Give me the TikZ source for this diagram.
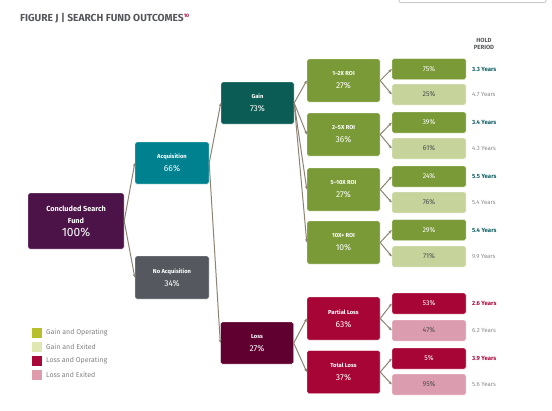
\documentclass[tikz,border=0pt]{standalone}
\usepackage{fontspec}
\setmainfont{Fira Sans}
\usepackage{tikz}
\usepackage{xcolor}
\usetikzlibrary{arrows.meta}
\definecolor{rootpurple}{RGB}{75,19,71}
\definecolor{acqteal}{RGB}{0,129,143}
\definecolor{noacqgray}{RGB}{85,88,95}
\definecolor{gainteal}{RGB}{11,92,84}
\definecolor{lossmaroon}{RGB}{95,0,48}
\definecolor{gaingreen}{RGB}{121,154,54}
\definecolor{gainlight}{RGB}{198,212,156}
\definecolor{lossred}{RGB}{166,5,53}
\definecolor{losspink}{RGB}{220,156,175}
\definecolor{leggreen}{RGB}{184,191,44}
\definecolor{leglight}{RGB}{225,231,178}
\definecolor{legred}{RGB}{168,7,58}
\definecolor{legpink}{RGB}{222,155,174}
\definecolor{linkgray}{RGB}{140,131,116}
\definecolor{titlegray}{RGB}{85,87,92}
\definecolor{yearteal}{RGB}{14,95,99}
\definecolor{yeargray}{RGB}{138,138,138}

\newcommand{\boxlabel}[2]{\bfseries\fontsize{5.8}{7}\selectfont #1\\[1pt]\mdseries\fontsize{8.5}{9}\selectfont #2}

\tikzset{
  outcome/.style={rectangle, rounded corners=1.5pt, draw=white, line width=0.4pt, align=center, text=white, inner sep=1pt, minimum width=73pt, minimum height=43pt},
  share/.style={rectangle, rounded corners=1.5pt, draw=white, line width=0.4pt, inner sep=1pt, minimum width=74pt, minimum height=21pt, font=\fontsize{7}{8}\selectfont},
  operating/.style={share, text=white},
  exited/.style={share, text=black!70},
  years/.style={anchor=west, inner sep=0pt, font=\fontsize{6}{7}\selectfont, text=yeargray},
  fastyears/.style={years, font=\bfseries\fontsize{6}{7}\selectfont},
  legsq/.style={rectangle, minimum size=10pt, inner sep=0pt},
  legtext/.style={anchor=west, inner sep=0pt, font=\fontsize{7}{8}\selectfont, text=black!50},
  link/.style={->, linkgray, line width=1pt}
}

\begin{document}
\begin{tikzpicture}[x=1pt, y=-1pt, >={Stealth[length=3.5pt,width=3pt]}]
    \useasboundingbox (0,0) rectangle (552,410);
    \clip (0,0) rectangle (552,410);

    % Title and the box cut off at the top
    \node[anchor=west, inner sep=0pt, text=titlegray, font=\bfseries\fontsize{10.2}{11}\selectfont] (title) at (20,18)
        {FIGURE J | SEARCH FUND OUTCOMES\raisebox{3.5pt}{\textcolor{legred}{\fontsize{5}{5}\selectfont 10}}};
    \draw[black!20, line width=1pt, rounded corners=2pt] (399,-10) -- (399,2.5) -- (546,2.5) -- (546,-10);

    % Tree
    \node[outcome, fill=rootpurple, minimum width=96pt, minimum height=56pt] (root) at (76,221)
        {\bfseries\fontsize{7.3}{8.5}\selectfont Concluded Search\\\bfseries\fontsize{7.3}{8.5}\selectfont Fund\\[1pt]\mdseries\fontsize{12}{13}\selectfont 100\%};
    \node[outcome, fill=acqteal, minimum width=74pt, minimum height=42pt] (acq) at (172,163) {\boxlabel{Acquisition}{66\%}};
    \node[outcome, fill=noacqgray, minimum width=74pt] (noacq) at (172,277.5) {\boxlabel{No Acquisition}{34\%}};
    \node[outcome, fill=gainteal, minimum height=42pt] (gain) at (257.5,103) {\boxlabel{Gain}{73\%}};
    \node[outcome, fill=lossmaroon, minimum height=42pt] (loss) at (257,343) {\boxlabel{Loss}{27\%}};

    \node[outcome, fill=gaingreen] (roi1) at (343.5,80.5) {\boxlabel{1--2X ROI}{27\%}};
    \node[outcome, fill=gaingreen] (roi2) at (343.5,134.5) {\boxlabel{2--5X ROI}{36\%}};
    \node[outcome, fill=gaingreen] (roi3) at (343.5,189.5) {\boxlabel{5--10X ROI}{27\%}};
    \node[outcome, fill=gaingreen] (roi4) at (343.5,242.5) {\boxlabel{10X+ ROI}{10\%}};
    \node[outcome, fill=lossred] (ploss) at (343.5,318.5) {\boxlabel{Partial Loss}{63\%}};
    \node[outcome, fill=lossred] (tloss) at (343.5,372) {\boxlabel{Total Loss}{37\%}};

    % Operating / exited shares
    \node[operating, fill=gaingreen] (op1) at (429,69) {75\%};
    \node[exited, fill=gainlight] (ex1) at (429,94.5) {25\%};
    \node[operating, fill=gaingreen] (op2) at (429,122.5) {39\%};
    \node[exited, fill=gainlight] (ex2) at (429,148.5) {61\%};
    \node[operating, fill=gaingreen] (op3) at (429,176.5) {24\%};
    \node[exited, fill=gainlight] (ex3) at (429,202.5) {76\%};
    \node[operating, fill=gaingreen] (op4) at (429,230) {29\%};
    \node[exited, fill=gainlight] (ex4) at (429,256.5) {71\%};
    \node[operating, fill=lossred] (op5) at (429,303.5) {53\%};
    \node[exited, fill=losspink] (ex5) at (429,330.5) {47\%};
    \node[operating, fill=lossred] (op6) at (429,358.5) {5\%};
    \node[exited, fill=losspink] (ex6) at (429,384.5) {95\%};

    % Hold period
    \node[align=center, inner sep=0pt, text=titlegray, font=\bfseries\fontsize{6}{7}\selectfont] (hold) at (484,44) {HOLD\\PERIOD};
    \node[fastyears, text=yearteal] (y1) at (472,69) {3.3 Years};
    \node[years] (y2) at (472,94.5) {4.7 Years};
    \node[fastyears, text=yearteal] (y3) at (472,122.5) {3.4 Years};
    \node[years] (y4) at (472,148.5) {4.3 Years};
    \node[fastyears, text=yearteal] (y5) at (472,176.5) {5.5 Years};
    \node[years] (y6) at (472,202.5) {5.4 Years};
    \node[fastyears, text=yearteal] (y7) at (472,230) {5.4 Years};
    \node[years] (y8) at (472,256.5) {9.9 Years};
    \node[fastyears, text=legred] (y9) at (472,303.5) {2.6 Years};
    \node[years] (y10) at (472,330.5) {6.2 Years};
    \node[fastyears, text=legred] (y11) at (472,358.5) {3.9 Years};
    \node[years] (y12) at (472,384.5) {5.6 Years};

    % Connectors
    \draw[link] (root.east) -- (acq.west);
    \draw[link] (root.east) -- (noacq.west);
    \draw[link] (acq.east) -- (gain.west);
    \draw[link] (acq.east) -- (loss.west);
    \draw[link] (gain.east) -- (roi1.west);
    \draw[link] (gain.east) -- (roi2.west);
    \draw[link] (gain.east) -- (roi3.west);
    \draw[link] (gain.east) -- (roi4.west);
    \draw[link] (loss.east) -- (ploss.west);
    \draw[link] (loss.east) -- (tloss.west);
    \draw[link] (roi1.east) -- (op1.west);
    \draw[link] (roi1.east) -- (ex1.west);
    \draw[link] (roi2.east) -- (op2.west);
    \draw[link] (roi2.east) -- (ex2.west);
    \draw[link] (roi3.east) -- (op3.west);
    \draw[link] (roi3.east) -- (ex3.west);
    \draw[link] (roi4.east) -- (op4.west);
    \draw[link] (roi4.east) -- (ex4.west);
    \draw[link] (ploss.east) -- (op5.west);
    \draw[link] (ploss.east) -- (ex5.west);
    \draw[link] (tloss.east) -- (op6.west);
    \draw[link] (tloss.east) -- (ex6.west);

    % Legend
    \node[legsq, fill=leggreen] (lg1) at (37,333) {};
    \node[legtext] (lt1) at (46,333) {Gain and Operating};
    \node[legsq, fill=leglight] (lg2) at (37,347) {};
    \node[legtext] (lt2) at (46,347) {Gain and Exited};
    \node[legsq, fill=legred] (lg3) at (37,361) {};
    \node[legtext] (lt3) at (46,361) {Loss and Operating};
    \node[legsq, fill=legpink] (lg4) at (37,375) {};
    \node[legtext] (lt4) at (46,375) {Loss and Exited};
\end{tikzpicture}
\end{document}
